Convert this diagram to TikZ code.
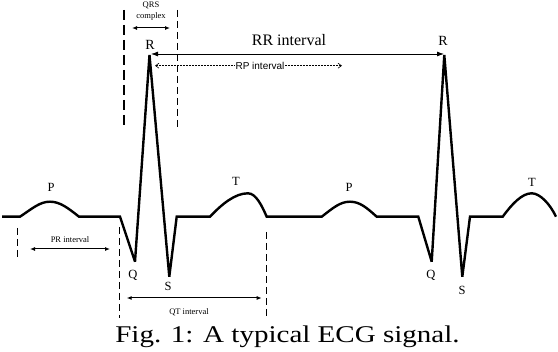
\documentclass[tikz,border=0pt]{standalone}
\usepackage{fontspec}
\setmainfont{Liberation Serif}
\newfontfamily\arialf{Liberation Sans}
\usetikzlibrary{arrows.meta}
\begin{document}
\begin{tikzpicture}[x=1pt,y=-1pt,
  trace/.style={line width=2.4pt,line join=miter,miter limit=3},
  lbl/.style={inner sep=0pt,font=\fontsize{12.5}{13}\selectfont},
  tiny/.style={inner sep=0pt,font=\fontsize{8.5}{9}\selectfont},
  vdash/.style={line width=1.1pt,dash pattern=on 7pt off 4pt},
  dbl/.style={line width=1pt,{Latex[length=5pt,width=4pt]}-{Latex[length=5pt,width=4pt]}}]
\useasboundingbox (0,0) rectangle (558,352);
% ECG trace
\draw[trace] (2,216.7) -- (20,216.7)
  .. controls (33,208) and (40,201.7) .. (50,201.7)
  .. controls (60,201.7) and (68,208) .. (79,216.7)
  -- (120,216.7) -- (135,261.7) -- (149.5,55) -- (169.3,276.7) -- (176.7,216.7)
  -- (210,216.7)
  .. controls (222,204) and (235,193.3) .. (248,193.3)
  .. controls (256,193.3) and (262,206) .. (266.7,216.7)
  -- (321.7,216.7)
  .. controls (333,208) and (340,201.7) .. (350,201.7)
  .. controls (360,201.7) and (367,208) .. (376.7,216.7)
  -- (418.3,216.7) -- (431.7,261.7) -- (444.3,55) -- (462.3,276.7) -- (470,216.7)
  -- (502.7,216.7)
  .. controls (512,204) and (522,193.3) .. (531.7,193.3)
  .. controls (540,193.3) and (550,204) .. (556,216.7);
% wave labels
\node[lbl] (p1) at (51,187) {P};
\node[lbl] (t1) at (236,181) {T};
\node[lbl] (q1) at (133,275) {Q};
\node[lbl] (s1) at (168,286) {S};
\node[lbl] (p2) at (349,187) {P};
\node[lbl] (t2) at (532,182) {T};
\node[lbl] (q2) at (431,275) {Q};
\node[lbl] (s2) at (462,290) {S};
\node[lbl,font=\fontsize{14}{14}\selectfont] (r1) at (150,45) {R};
\node[lbl,font=\fontsize{14}{14}\selectfont] (r2) at (443,41) {R};
% QRS complex
\coordinate (qa) at (124,10); \coordinate (qb) at (124,128);
\coordinate (qc) at (177.3,10); \coordinate (qd) at (177.3,128);
\draw[line width=2.4pt,dash pattern=on 10pt off 5pt] (qa) -- (qb);
\draw[vdash] (qc) -- (qd);
\node[tiny] (qrs) at (151,5) {QRS};
\node[tiny] (cplx) at (151,16) {complex};
\coordinate (qra) at (132,28); \coordinate (qrb) at (170,28);
\draw[dbl] (qra) -- (qrb);
% RR interval
\node[inner sep=0pt,font=\fontsize{16}{16}\selectfont] (rrl) at (289,40) {RR interval};
\coordinate (rra) at (151,54); \coordinate (rrb) at (444,54);
\draw[line width=0.8pt,{Latex[length=7pt,width=5pt]}-{Latex[length=7pt,width=5pt]}] (rra) -- (rrb);
% RP interval
\coordinate (rpa) at (155,65.7); \coordinate (rpb) at (342,65.7);
\draw[line width=0.6pt,dash pattern=on 2pt off 1pt,{Straight Barb[length=3.5pt,width=5pt]}-{Straight Barb[length=3.5pt,width=5pt]}] (rpa) -- (rpb);
\node[fill=white,inner sep=0.6pt,font=\arialf\fontsize{10}{10}\selectfont] (rpl) at (260,65.7) {RP interval};
% PR interval
\coordinate (pra) at (17.3,228); \coordinate (prb) at (17.3,259);
\coordinate (prc) at (119.3,227); \coordinate (prd) at (119.3,318);
\draw[vdash] (pra) -- (prb);
\draw[vdash] (prc) -- (prd);
\node[tiny] (prl) at (70,240) {PR interval};
\coordinate (pre) at (30,249); \coordinate (prf) at (110,249);
\draw[dbl] (pre) -- (prf);
% QT interval
\coordinate (qta) at (266.7,232); \coordinate (qtb) at (266.7,318);
\draw[vdash] (qta) -- (qtb);
\coordinate (qtc) at (126.7,298); \coordinate (qtd) at (261.7,298);
\draw[dbl] (qtc) -- (qtd);
\node[tiny] (qtl) at (189,312) {QT interval};
% caption
\node[inner sep=0pt,anchor=base,xscale=1.21,font=\fontsize{24}{24}\selectfont] (cap) at (287.5,342.3) {Fig. 1: A typical ECG signal.};
\end{tikzpicture}
\end{document}
